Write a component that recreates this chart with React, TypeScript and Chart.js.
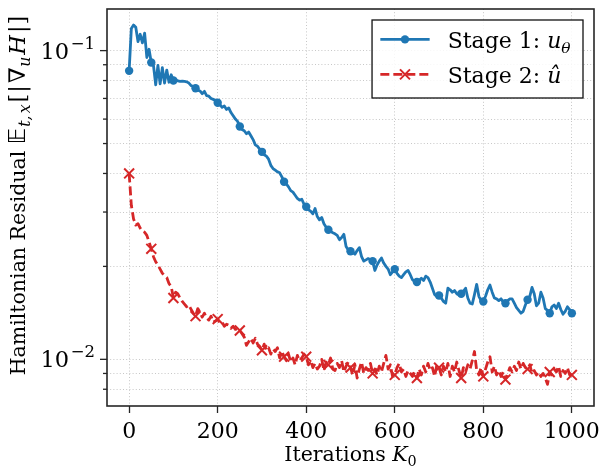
import React, { useEffect, useRef } from 'react';
import { Chart, registerables } from 'chart.js';

Chart.register(...registerables);

// ---------- data ----------
const ITERATIONS = Array.from({ length: 201 }, (_, i) => i * 5);

const STAGE1 = [
  0.086, 0.118, 0.121, 0.119, 0.107, 0.113, 0.106, 0.114, 0.095, 0.101,
  0.0915, 0.0895, 0.0775, 0.0895, 0.078, 0.088, 0.0785, 0.0865, 0.079, 0.0835,
  0.080, 0.0805, 0.0798, 0.0795, 0.0797, 0.0795, 0.0792, 0.0785, 0.077, 0.0765,
  0.0755, 0.0745, 0.074, 0.0725, 0.0738, 0.0715, 0.0712, 0.070, 0.0695, 0.069,
  0.0678, 0.0668, 0.0655, 0.0662, 0.0645, 0.0652, 0.063, 0.0615, 0.060, 0.059,
  0.0568, 0.0555, 0.055, 0.0538, 0.0545, 0.053, 0.0515, 0.0495, 0.049, 0.048,
  0.047, 0.046, 0.0455, 0.0445, 0.0425, 0.0415, 0.041, 0.0405, 0.0402, 0.039,
  0.0376, 0.037, 0.0362, 0.0352, 0.0348, 0.034, 0.0332, 0.0328, 0.033, 0.0318,
  0.0312, 0.0305, 0.0302, 0.0296, 0.0308, 0.029, 0.0283, 0.0288, 0.0275, 0.0268,
  0.0263, 0.026, 0.0257, 0.0255, 0.0252, 0.0244, 0.0248, 0.0254, 0.0232, 0.0226,
  0.0224, 0.0222, 0.0219, 0.0225, 0.023, 0.0215, 0.0208, 0.021, 0.0212, 0.021,
  0.0208, 0.0194, 0.0202, 0.0208, 0.0213, 0.0205, 0.0200, 0.0196, 0.0188, 0.0192,
  0.0196, 0.019, 0.0186, 0.0184, 0.0188, 0.0192, 0.0194, 0.0188, 0.0181, 0.0179,
  0.0178, 0.018, 0.0183, 0.018, 0.0186, 0.0184, 0.0178, 0.017, 0.0162, 0.016,
  0.0161, 0.0158, 0.0154, 0.0152, 0.017, 0.0168, 0.0165, 0.0167, 0.0163, 0.0162,
  0.0163, 0.0166, 0.017, 0.0158, 0.0152, 0.0151, 0.0162, 0.0175, 0.016, 0.0155,
  0.0154, 0.016, 0.0168, 0.0174, 0.0165, 0.0158, 0.0157, 0.0155, 0.0157, 0.0153,
  0.0152, 0.0155, 0.0157, 0.0157, 0.0152, 0.0147, 0.0144, 0.0141, 0.0143, 0.015,
  0.0156, 0.016, 0.0171, 0.0163, 0.0149, 0.0152, 0.0165, 0.0158, 0.0146, 0.0144,
  0.0141, 0.0148, 0.015, 0.0146, 0.0152, 0.0145, 0.014, 0.0143, 0.0148, 0.0145,
  0.0141,
];

const STAGE2 = [
  0.040, 0.0315, 0.0285, 0.0272, 0.0275, 0.0266, 0.026, 0.0258, 0.0252, 0.024,
  0.0228, 0.0215, 0.0207, 0.0202, 0.0196, 0.019, 0.0187, 0.0184, 0.0176, 0.0172,
  0.0158, 0.0165, 0.0163, 0.0158, 0.0154, 0.0151, 0.0148, 0.0150, 0.0145, 0.0141,
  0.0138, 0.0146, 0.0142, 0.0137, 0.0141, 0.0136, 0.0134, 0.0138, 0.0132, 0.0133,
  0.0135, 0.0131, 0.0132, 0.0128, 0.013, 0.0129, 0.0126, 0.0128, 0.0125, 0.0126,
  0.0124, 0.0121, 0.0118, 0.0111, 0.0114, 0.0117, 0.0113, 0.0117, 0.0112, 0.011,
  0.0107, 0.0112, 0.0107, 0.0109, 0.0104, 0.0108, 0.0106, 0.0109, 0.0101, 0.0106,
  0.0102, 0.0099, 0.0104, 0.0098, 0.0101, 0.0096, 0.0103, 0.0099, 0.0101, 0.0104,
  0.0102, 0.0096, 0.0099, 0.0094, 0.0097, 0.0093, 0.0095, 0.0100, 0.0092, 0.0098,
  0.0096, 0.0101, 0.0093, 0.0092, 0.0097, 0.0094, 0.0099, 0.0091, 0.0095, 0.0098,
  0.0094, 0.0089, 0.0096, 0.0087, 0.0093, 0.0098, 0.009, 0.0094, 0.0092, 0.0097,
  0.009, 0.0093, 0.0089, 0.0095, 0.0091, 0.0097, 0.0103, 0.0093, 0.0096, 0.0088,
  0.0089, 0.0094, 0.0097, 0.0091, 0.0093, 0.0088, 0.0092, 0.009, 0.0088, 0.0091,
  0.0087, 0.0093, 0.0089, 0.0095, 0.0091, 0.0097, 0.0092, 0.0094, 0.0088, 0.0096,
  0.0094, 0.0089, 0.0095, 0.0091, 0.0097, 0.0088, 0.0095, 0.0091, 0.0098, 0.0092,
  0.0087, 0.0094, 0.0091, 0.0096, 0.0093, 0.0099, 0.0106, 0.0092, 0.0089, 0.0094,
  0.0088, 0.0093, 0.0098, 0.0102, 0.0091, 0.0095, 0.0089, 0.0092, 0.0088, 0.0091,
  0.0086, 0.009, 0.0094, 0.0091, 0.0095, 0.0092, 0.0098, 0.0093, 0.0097, 0.0094,
  0.0093, 0.0096, 0.009, 0.0092, 0.0089, 0.0091, 0.0088, 0.009, 0.0087, 0.0083,
  0.0091, 0.0089, 0.0093, 0.0091, 0.0095, 0.0088, 0.0092, 0.009, 0.0094, 0.0089,
  0.0089,
];

const X_TICKS = [0, 200, 400, 600, 800, 1000];
const Y_TICKS = [0.008, 0.009, 0.01, 0.02, 0.03, 0.04, 0.05, 0.06, 0.07, 0.08, 0.09, 0.1];
const Y_MAJOR = [
  { value: 0.01, base: '10', exp: '−2' },
  { value: 0.1, base: '10', exp: '−1' },
];
const X_RANGE = [-50, 1050];
const Y_RANGE = [0.00706, 0.1364];

const BLUE = '#1f77b4';
const RED = '#d62728';
const AXIS = '#262626';
const GRID = 'rgba(175,175,175,0.7)';
const SERIF = '"DejaVu Serif", serif';
const SANS = '"DejaVu Sans", sans-serif';

type Seg = { t: string; it?: boolean; sub?: boolean; fam?: string; gap?: number; k?: number };

const LEGEND_ITEMS: Seg[][] = [
  [{ t: 'Stage 1: ' }, { t: 'u', it: true }, { t: 'θ', it: true, sub: true }],
  [{ t: 'Stage 2: ' }, { t: 'û', it: true }],
];
const X_TITLE: Seg[] = [{ t: 'Iterations ' }, { t: 'K', it: true }, { t: '0', sub: true }];
const Y_TITLE: Seg[] = [
  { t: 'Hamiltonian Residual ' },
  { t: '𝔼', fam: SANS, gap: 1, k: 1.1 },
  { t: 't,', it: true, sub: true, gap: 2, k: 1.1 },
  { t: 'x', it: true, sub: true, gap: 2, k: 1.1 },
  { t: '[', gap: 1, k: 1.1 },
  { t: '|', gap: 2, k: 1.1 },
  { t: '∇', gap: 0.5, k: 1.1 },
  { t: 'u', it: true, sub: true, gap: 2, k: 1.1 },
  { t: 'H', it: true, gap: 2, k: 1.1 },
  { t: '|', gap: 1, k: 1.1 },
  { t: ']', k: 1.1 },
];

function segFont(s: Seg, size: number) {
  const sz = size * (s.k || 1) * (s.sub ? 0.7 : 1);
  return `${s.it ? 'italic ' : ''}${sz}px ${s.fam || SERIF}`;
}
function richWidth(ctx: CanvasRenderingContext2D, segs: Seg[], size: number) {
  let w = 0;
  for (const s of segs) {
    ctx.font = segFont(s, size);
    w += ctx.measureText(s.t).width + (s.gap || 0);
  }
  return w;
}
function drawRich(ctx: CanvasRenderingContext2D, segs: Seg[], x: number, y: number, size: number) {
  let cx = x;
  ctx.textBaseline = 'alphabetic';
  ctx.textAlign = 'left';
  for (const s of segs) {
    ctx.font = segFont(s, size);
    ctx.fillText(s.t, cx, s.sub ? y + size * 0.22 : y);
    cx += ctx.measureText(s.t).width + (s.gap || 0);
  }
}

const decorPlugin = {
  id: 'decor',
  afterDraw(chart: any) {
    const { ctx, chartArea: a, scales } = chart;
    const ys = scales.y;
    ctx.save();
    // y tick marks (major / minor)
    ctx.strokeStyle = AXIS;
    ctx.lineWidth = 1.3;
    for (const t of ys.ticks) {
      const p = ys.getPixelForValue(t.value);
      const lg = Math.log10(t.value);
      const major = Math.abs(lg - Math.round(lg)) < 1e-9;
      const len = major ? 7 : 4;
      ctx.beginPath();
      ctx.moveTo(a.left - len, p);
      ctx.lineTo(a.left, p);
      ctx.stroke();
    }
    // y tick labels with superscript exponent
    ctx.fillStyle = '#000';
    ctx.textBaseline = 'alphabetic';
    ctx.textAlign = 'left';
    const bs = 22.5;
    const es = 16.5;
    for (const m of Y_MAJOR) {
      const p = ys.getPixelForValue(m.value);
      ctx.font = `${bs}px ${SERIF}`;
      const w1 = ctx.measureText(m.base).width;
      ctx.font = `${es}px ${SERIF}`;
      const w2 = ctx.measureText(m.exp).width;
      const right = a.left - 12;
      const x0 = right - w1 - w2 - 1.5;
      ctx.font = `${bs}px ${SERIF}`;
      ctx.fillText(m.base, x0, p + 8);
      ctx.font = `${es}px ${SERIF}`;
      ctx.fillText(m.exp, x0 + w1 + 1.5, p - 2);
    }
    // frame
    ctx.lineWidth = 1.6;
    ctx.strokeStyle = AXIS;
    ctx.strokeRect(a.left, a.top, a.right - a.left, a.bottom - a.top);

    // axis titles
    ctx.fillStyle = '#000';
    const xt = 20.5;
    const xw = richWidth(ctx, X_TITLE, xt);
    drawRich(ctx, X_TITLE, (a.left + a.right) / 2 - xw / 2, 461, xt);

    const yt = 20.5;
    const yw = richWidth(ctx, Y_TITLE, yt);
    ctx.save();
    ctx.translate(25, (a.top + a.bottom) / 2 - 12);
    ctx.rotate(-Math.PI / 2);
    drawRich(ctx, Y_TITLE, -yw / 2, 0, yt);
    ctx.restore();

    // legend
    const fs = 22;
    const tw = Math.max(...LEGEND_ITEMS.map((segs) => richWidth(ctx, segs, fs)));
    const boxRight = a.right - 11;
    const boxTop = a.top + 11;
    const boxW = 76 + tw + 12;
    const boxLeft = boxRight - boxW;
    const boxH = 78;
    ctx.fillStyle = 'rgba(255,255,255,0.85)';
    ctx.fillRect(boxLeft, boxTop, boxW, boxH);
    ctx.strokeStyle = '#111';
    ctx.lineWidth = 1.3;
    ctx.strokeRect(boxLeft, boxTop, boxW, boxH);

    LEGEND_ITEMS.forEach((segs, i) => {
      const cy = boxTop + 19.4 + 35 * i;
      const x0 = boxLeft + 8.3;
      const x1 = boxLeft + 57.6;
      const mx = (x0 + x1) / 2;
      const color = i === 0 ? BLUE : RED;
      ctx.strokeStyle = color;
      ctx.fillStyle = color;
      ctx.lineWidth = 2.8;
      ctx.setLineDash(i === 0 ? [] : [9, 4]);
      ctx.beginPath();
      ctx.moveTo(x0, cy);
      ctx.lineTo(x1, cy);
      ctx.stroke();
      ctx.setLineDash([]);
      if (i === 0) {
        ctx.beginPath();
        ctx.arc(mx, cy, 4.2, 0, Math.PI * 2);
        ctx.fill();
      } else {
        const r = 5;
        ctx.lineWidth = 2;
        ctx.beginPath();
        ctx.moveTo(mx - r, cy - r);
        ctx.lineTo(mx + r, cy + r);
        ctx.moveTo(mx + r, cy - r);
        ctx.lineTo(mx - r, cy + r);
        ctx.stroke();
      }
      ctx.fillStyle = '#000';
      drawRich(ctx, segs, boxLeft + 75.6, cy + 8.3, fs);
    });
    ctx.restore();
  },
};

export default function App() {
  const ref = useRef<HTMLCanvasElement>(null);
  useEffect(() => {
    const canvas = ref.current!;
    const chart = new Chart(canvas, {
      type: 'line',
      data: {
        datasets: [
          {
            label: 'Stage 1',
            data: ITERATIONS.map((x, i) => ({ x, y: STAGE1[i] })),
            borderColor: BLUE,
            backgroundColor: BLUE,
            borderWidth: 2.8,
            borderJoinStyle: 'round',
            borderCapStyle: 'round',
            pointStyle: 'circle',
            pointRadius: (c: any) => (c.dataIndex % 10 === 0 ? 4.2 : 0),
            pointHoverRadius: 0,
            pointBorderWidth: 0,
            pointBackgroundColor: BLUE,
            tension: 0,
            fill: false,
          },
          {
            label: 'Stage 2',
            data: ITERATIONS.map((x, i) => ({ x, y: STAGE2[i] })),
            borderColor: RED,
            backgroundColor: RED,
            borderWidth: 2.8,
            borderDash: [9, 4],
            borderJoinStyle: 'round',
            borderCapStyle: 'butt',
            pointStyle: 'crossRot',
            pointRadius: (c: any) => (c.dataIndex % 10 === 0 ? 7 : 0),
            pointHoverRadius: 0,
            pointBorderColor: RED,
            pointBorderWidth: 2,
            tension: 0,
            fill: false,
          },
        ],
      },
      options: {
        responsive: false,
        animation: false,
        events: [],
        layout: { padding: { top: 6, right: 8, left: 0, bottom: 0 } },
        plugins: { legend: { display: false }, tooltip: { enabled: false } },
        scales: {
          x: {
            type: 'linear',
            min: X_RANGE[0],
            max: X_RANGE[1],
            afterBuildTicks: (s: any) => {
              s.ticks = X_TICKS.map((v) => ({ value: v }));
            },
            afterFit: (s: any) => {
              s.height = 61;
              s.paddingLeft = 0;
              s.paddingRight = 0;
            },
            ticks: {
              autoSkip: false,
              maxRotation: 0,
              padding: 6,
              color: '#000',
              font: { family: SERIF, size: 22 },
              callback: (v: any) => String(v),
            },
            grid: {
              color: GRID,
              lineWidth: 1,
              drawTicks: true,
              tickLength: 7,
              tickColor: AXIS,
              tickWidth: 1.3,
            },
            border: { display: false, dash: [1, 2.2] },
          },
          y: {
            type: 'logarithmic',
            min: Y_RANGE[0],
            max: Y_RANGE[1],
            afterBuildTicks: (s: any) => {
              s.ticks = Y_TICKS.map((v) => ({ value: v }));
            },
            afterFit: (s: any) => {
              s.width = 107;
              s.paddingTop = 0;
              s.paddingBottom = 0;
            },
            ticks: {
              display: false,
              autoSkip: false,
            },
            grid: {
              color: GRID,
              lineWidth: 1,
              drawTicks: false,
            },
            border: { display: false, dash: [1, 2.2] },
          },
        },
      },
      plugins: [decorPlugin],
    } as any);
    return () => chart.destroy();
  }, []);
  return (
    <div style={{ position: 'absolute', left: 0, top: 0, width: 603, height: 467 }}>
      <canvas ref={ref} width={603} height={467} style={{ width: 603, height: 467, display: 'block' }} />
    </div>
  );
}
